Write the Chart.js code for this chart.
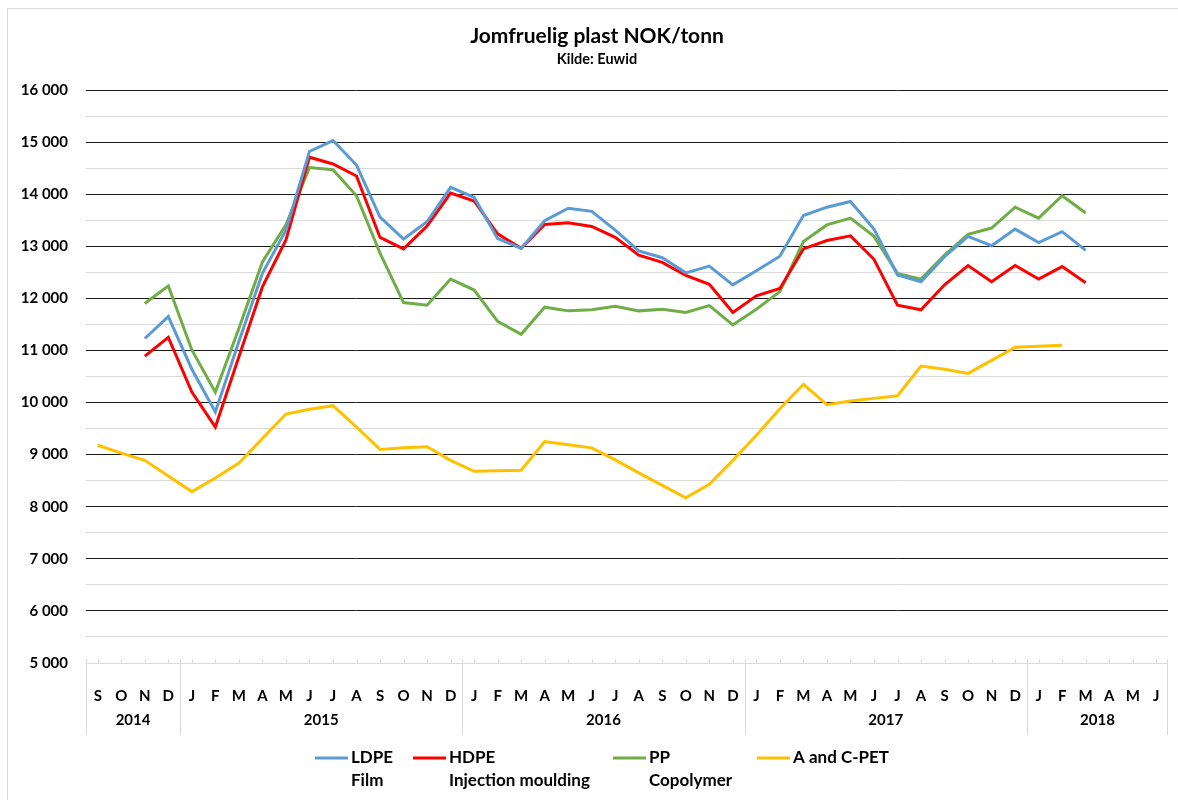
<!DOCTYPE html>
<html>
<head>
<meta charset="utf-8">
<title>Jomfruelig plast NOK/tonn</title>
<script src="https://cdn.jsdelivr.net/npm/chart.js@4.4.1/dist/chart.umd.min.js"></script>
<style>
  html, body { margin: 0; padding: 0; background: #fff; }
  #wrap { position: relative; width: 1178px; height: 800px; overflow: hidden; }
  #frame { position: absolute; left: 7px; top: 8px; width: 1200px; height: 820px; border-left: 1px solid #d9d9d9; border-top: 1px solid #d9d9d9; }
  canvas { position: absolute; left: 0; top: 0; }
</style>
</head>
<body>
<div id="wrap">
  <div id="frame"></div>
  <canvas id="plast-chart" width="1178" height="800"></canvas>
</div>
<script>
// Months from Sep 2014 to Jun 2018
const monthLabels = [
  "S", "O", "N", "D",
  "J", "F", "M", "A", "M", "J", "J", "A", "S", "O", "N", "D",
  "J", "F", "M", "A", "M", "J", "J", "A", "S", "O", "N", "D",
  "J", "F", "M", "A", "M", "J", "J", "A", "S", "O", "N", "D",
  "J", "F", "M", "A", "M", "J"
];

// Year groups: label, first month index, last month index
const years = ["2014", "2015", "2016", "2017", "2018"];
const yearStart = [0, 4, 16, 28, 40];
const yearEnd = [3, 15, 27, 39, 45];

const ldpeFilm = [
  null, null, 11230, 11650,
  10640, 9820, 11170, 12480, 13310, 14820, 15030, 14560, 13560, 13140, 13470, 14130,
  13940, 13150, 12960, 13490, 13730, 13670, 13310, 12910, 12780, 12490, 12620, 12260,
  12530, 12810, 13590, 13750, 13860, 13330, 12450, 12320, 12800, 13190, 13010, 13330,
  13070, 13280, 12920, null, null, null
];

const hdpeInjection = [
  null, null, 10890, 11250,
  10200, 9530, 10880, 12220, 13120, 14710, 14580, 14350, 13170, 12950, 13390, 14020,
  13870, 13240, 12960, 13420, 13450, 13380, 13170, 12830, 12690, 12440, 12270, 11730,
  12050, 12190, 12950, 13110, 13200, 12750, 11870, 11780, 12260, 12630, 12320, 12630,
  12370, 12610, 12300, null, null, null
];

const ppCopolymer = [
  null, null, 11900, 12240,
  11010, 10200, 11420, 12700, 13410, 14510, 14470, 13970, 12870, 11920, 11870, 12370,
  12160, 11560, 11310, 11830, 11760, 11780, 11850, 11760, 11790, 11730, 11860, 11490,
  11790, 12130, 13090, 13410, 13540, 13190, 12480, 12370, 12830, 13230, 13350, 13750,
  13540, 13970, 13640, null, null, null
];

const acPet = [
  9180, 9030, 8890, 8590,
  8290, 8550, 8840, 9310, 9780, 9870, 9940, 9530, 9100, 9130, 9150, 8890,
  8680, 8690, 8700, 9250, 9190, 9130, 8900, 8650, 8410, 8170, 8430, 8890,
  9370, 9880, 10350, 9960, 10030, 10080, 10130, 10700, 10640, 10560, 10810, 11060,
  11080, 11100, null, null, null, null
];

const seriesNames = ["LDPE", "HDPE", "PP", "A and C-PET"];
const seriesSubNames = ["Film", "Injection moulding", "Copolymer", ""];
const seriesColors = ["#5b9bd5", "#ff0000", "#70ad47", "#ffc000"];

const chartTitle = "Jomfruelig plast NOK/tonn";
const chartSubtitle = "Kilde: Euwid";

const FONT = "Lato, 'Liberation Sans', sans-serif";

function fmtThousands(v) {
  return String(v).replace(/\B(?=(\d{3})+(?!\d))/g, " ");
}

// Title, year row, year dividers, small ticks and the two-line legend
const extrasPlugin = {
  id: "extras",
  afterDraw(chart) {
    const ctx = chart.ctx;
    const x = chart.scales.x;
    const area = chart.chartArea;
    const half = (x.getPixelForValue(1) - x.getPixelForValue(0)) / 2;

    ctx.save();
    // title block
    ctx.fillStyle = "#000";
    ctx.textAlign = "center";
    ctx.textBaseline = "middle";
    ctx.font = "bold 21px " + FONT;
    ctx.fillText(chartTitle, 597, 36);
    ctx.font = "bold 14.5px " + FONT;
    ctx.fillText(chartSubtitle, 597, 59);

    // small ticks at month centers
    ctx.strokeStyle = "#d9d9d9";
    ctx.lineWidth = 1;
    ctx.beginPath();
    for (let i = 0; i < monthLabels.length; i++) {
      const px = Math.round(x.getPixelForValue(i)) + 0.5;
      ctx.moveTo(px, area.bottom - 4);
      ctx.lineTo(px, area.bottom);
    }
    // year dividers
    for (let k = 0; k < years.length; k++) {
      const px = Math.round(x.getPixelForValue(yearStart[k]) - half) + 0.5;
      ctx.moveTo(px, area.bottom - 4);
      ctx.lineTo(px, area.bottom + 72);
    }
    const endPx = Math.round(x.getPixelForValue(monthLabels.length - 1) + half) - 0.5;
    ctx.moveTo(endPx, area.bottom - 4);
    ctx.lineTo(endPx, area.bottom + 72);
    ctx.stroke();

    // year labels
    ctx.font = "bold 15px " + FONT;
    for (let k = 0; k < years.length; k++) {
      const cx = (x.getPixelForValue(yearStart[k]) + x.getPixelForValue(yearEnd[k])) / 2;
      ctx.fillText(years[k], cx, area.bottom + 57);
    }

    // legend
    const legendX = [315, 413, 613, 757];
    ctx.textAlign = "left";
    ctx.font = "bold 17px " + FONT;
    ctx.lineWidth = 3;
    for (let s = 0; s < seriesNames.length; s++) {
      ctx.strokeStyle = seriesColors[s];
      ctx.beginPath();
      ctx.moveTo(legendX[s], 758);
      ctx.lineTo(legendX[s] + 33, 758);
      ctx.stroke();
      ctx.fillText(seriesNames[s], legendX[s] + 36, 758);
      if (seriesSubNames[s]) ctx.fillText(seriesSubNames[s], legendX[s] + 36, 781);
    }
    ctx.restore();
  }
};

const seriesData = [ldpeFilm, hdpeInjection, ppCopolymer, acPet];

const ctx = document.getElementById("plast-chart").getContext("2d");
const chart = new Chart(ctx, {
  type: "line",
  data: {
    labels: monthLabels,
    datasets: seriesData.map((d, s) => ({
      label: seriesNames[s],
      data: d,
      borderColor: seriesColors[s],
      backgroundColor: seriesColors[s],
      borderWidth: 3,
      pointRadius: 0,
      tension: 0,
      spanGaps: false,
    })),
  },
  options: {
    responsive: false,
    animation: false,
    layout: { padding: { left: 0, right: 10, top: 90, bottom: 0 } },
    plugins: {
      legend: { display: false },
      tooltip: { enabled: false },
      title: { display: false },
    },
    scales: {
      x: {
        offset: true,
        grid: { display: false },
        border: { display: false },
        ticks: {
          color: "#000",
          font: { family: FONT, size: 15, weight: "bold" },
          padding: 16,
          autoSkip: false,
          maxRotation: 0,
        },
        afterFit(scale) { scale.height = 137; },
      },
      y: {
        min: 5000,
        max: 16000,
        border: { display: false },
        grid: {
          drawTicks: false,
          lineWidth: 1,
          color: (c) => (c.tick && c.tick.value % 1000 === 0 && c.tick.value !== 5000) ? "#1a1a1a" : "#d9d9d9",
        },
        ticks: {
          stepSize: 500,
          color: "#000",
          font: { family: FONT, size: 15, weight: "bold" },
          padding: 18,
          callback: (v) => (v % 1000 === 0 ? fmtThousands(v) : ""),
        },
        afterFit(scale) { scale.width = 86; },
      },
    },
  },
  plugins: [extrasPlugin],
});
</script>
</body>
</html>
